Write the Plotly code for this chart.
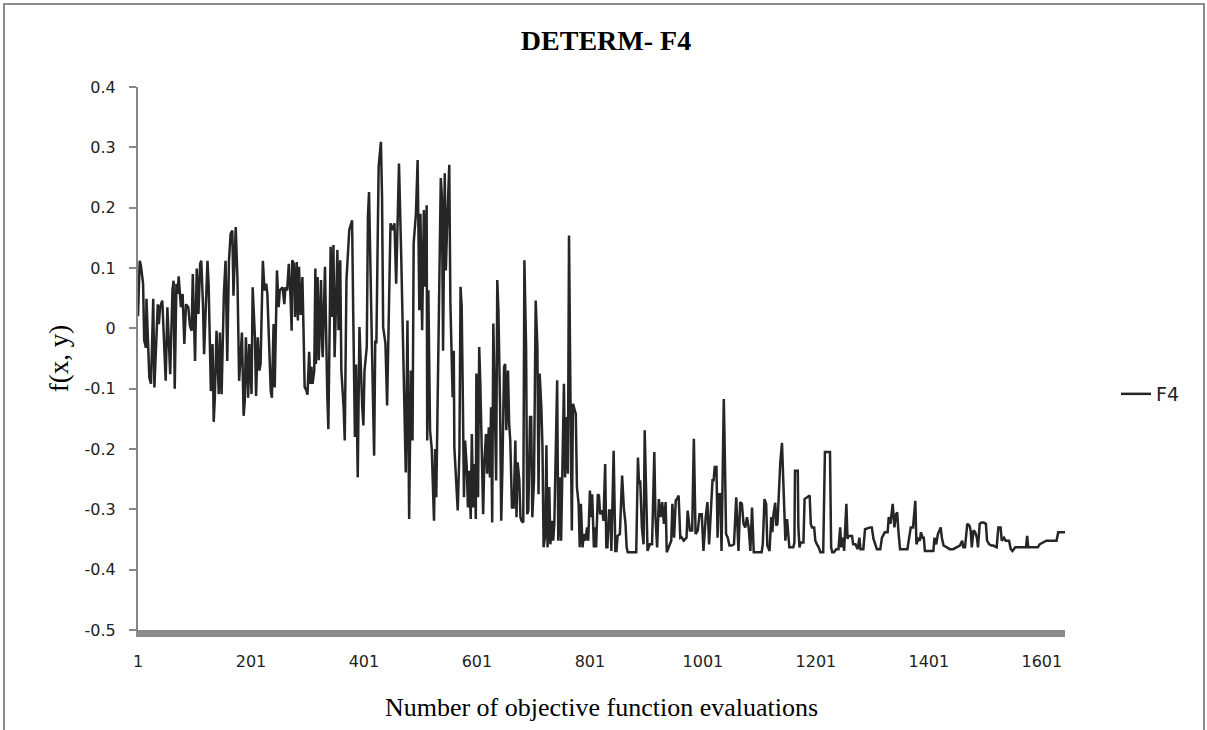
import plotly.graph_objects as go

# Evaluation index / objective value pairs, grouped by stretch of the run
eval_a = [1, 4, 6, 10, 12, 15, 16, 21, 24, 28,
          30, 33, 36, 38, 40, 44, 46, 50, 53, 58,
          62, 64, 66, 69, 71, 73, 77, 80, 83, 86,
          90, 93, 96, 98, 102, 105, 108, 111, 113, 116,
          118, 124, 126, 130, 133, 135, 137, 140, 144, 146,
          149, 153, 156, 159, 162, 165, 168, 170, 174, 177,
          180, 183, 185, 188, 190, 192, 196, 198, 202, 204,
          208, 210, 213, 216, 218, 222, 225, 228, 230, 236,
          238, 241, 243, 247, 250, 252, 257, 260, 262, 265,
          268, 271, 273]
f4_a = [0.02, 0.112, 0.105, 0.074, -0.02, -0.032, 0.049, -0.081, -0.092, 0.049,
        -0.098, -0.032, 0.04, 0.007, 0.035, 0.046, -0.004, -0.087, 0.035, -0.076,
        0.063, 0.079, -0.1, 0.074, 0.057, 0.086, 0.035, 0.057, -0.026, 0.04,
        0.035, 0.004, -0.004, 0.09, -0.054, 0.099, 0.024, 0.107, 0.112, 0.04,
        -0.043, 0.112, 0.074, -0.104, -0.026, -0.155, -0.115, -0.004, -0.109, -0.007,
        -0.109, 0.057, 0.112, -0.054, 0.112, 0.157, 0.162, 0.054, 0.168, 0.085,
        -0.087, -0.026, -0.007, -0.145, -0.12, -0.015, -0.115, -0.026, -0.109, 0.068,
        -0.015, -0.112, -0.015, -0.07, -0.059, 0.112, 0.063, 0.074, 0.057, -0.104,
        -0.115, 0.007, -0.098, 0.096, 0.035, 0.063, 0.068, 0.04, 0.068, 0.063,
        0.107, 0.051, -0.004]

eval_b = [274, 277, 279, 282, 284, 286, 289, 292, 294, 296,
          299, 301, 304, 306, 308, 310, 313, 315, 316, 319,
          321, 325, 327, 328, 332, 334, 336, 338, 342, 344,
          347, 349, 354, 356, 359, 361, 365, 367, 370, 375,
          380, 382, 385, 387, 390, 393, 395, 398, 400, 402,
          406, 408, 410, 413, 415, 419, 421, 423, 427, 431,
          433, 435, 439, 442, 445, 448, 451, 455, 458, 463,
          467, 472, 475, 478, 481, 484, 487, 489, 493, 496,
          499, 501, 504, 507, 509, 512, 513, 515, 518, 521,
          525, 527, 529, 531, 533, 537, 539, 541, 544, 546,
          548, 552, 554, 558, 560, 561]
f4_b = [0.113, 0.107, 0.019, 0.11, 0.013, 0.102, 0.022, 0.085, -0.003, -0.097,
        -0.103, -0.11, -0.039, -0.092, -0.064, -0.092, -0.07, 0.099, -0.059, 0.085,
        -0.053, 0.08, -0.031, -0.048, 0.102, -0.048, -0.108, -0.167, 0.135, 0.019,
        0.138, -0.048, 0.13, -0.003, 0.113, -0.07, -0.131, -0.186, 0.08, 0.163,
        0.179, 0.024, -0.18, -0.06, -0.247, 0.002, -0.07, -0.131, -0.161, -0.07,
        -0.031, 0.185, 0.226, 0.041, -0.025, -0.211, -0.02, -0.025, 0.268, 0.309,
        0.218, 0.002, -0.025, -0.128, 0.052, 0.174, 0.163, 0.174, 0.074, 0.273,
        0.118, -0.114, -0.239, 0.013, -0.316, -0.07, -0.186, 0.141, 0.19, 0.279,
        0.03, 0.19, -0.003, 0.196, 0.069, 0.204, -0.186, 0.063, -0.169, -0.2,
        -0.319, -0.2, -0.28, -0.15, -0.009, 0.249, 0.218, -0.037, 0.257, 0.096,
        0.163, 0.271, 0.041, -0.114, -0.037, -0.197]

eval_c = [567, 570, 572, 574, 576, 578, 580, 583, 585, 587,
          590, 592, 594, 597, 599, 600, 603, 605, 607, 610,
          612, 614, 617, 619, 622, 624, 626, 628, 630, 632,
          635, 637, 639, 642, 644, 646, 649, 651, 653, 656,
          658, 660, 663, 666, 669, 671, 673, 676, 678, 680,
          683, 685, 688, 690, 692, 695, 697, 699, 702, 705,
          708, 710, 712, 715, 717, 719, 722, 724, 726, 729,
          731, 734, 736, 738, 741, 743, 745, 748, 750, 752,
          755, 757, 759, 762, 764, 766, 769, 771, 773, 776,
          778, 781, 783, 785, 788, 790, 793, 796, 798, 801,
          803, 805, 808, 810, 812, 815, 817, 819, 823, 825,
          828, 830, 832, 835]
f4_c = [-0.302, -0.203, 0.069, 0.035, -0.114, -0.28, -0.186, -0.23, -0.297, -0.236,
        -0.316, -0.175, -0.297, -0.225, -0.316, -0.075, -0.28, -0.031, -0.092, -0.263,
        -0.308, -0.225, -0.175, -0.241, -0.164, -0.247, -0.131, -0.322, 0.008, -0.092,
        -0.252, 0.08, 0.03, -0.131, -0.319, -0.236, -0.064, -0.059, -0.169, -0.07,
        -0.158, -0.186, -0.297, -0.297, -0.186, -0.313, -0.222, -0.252, -0.313, -0.319,
        -0.322, 0.113, -0.031, -0.308, -0.302, -0.147, -0.147, -0.313, -0.252, 0.046,
        -0.031, -0.275, -0.075, -0.131, -0.197, -0.363, -0.341, -0.194, -0.363, -0.263,
        -0.358, -0.319, -0.352, -0.324, -0.18, -0.086, -0.352, -0.247, -0.352, -0.258,
        -0.092, -0.247, -0.147, -0.241, 0.154, -0.059, -0.335, -0.125, -0.131, -0.142,
        -0.263, -0.291, -0.363, -0.291, -0.363, -0.341, -0.352, -0.33, -0.352, -0.269,
        -0.313, -0.275, -0.363, -0.33, -0.363, -0.275, -0.277, -0.308, -0.302, -0.319,
        -0.225, -0.363, -0.363, -0.302]

eval_d = [837, 839, 843, 846, 848, 850, 854, 858, 861, 864,
          866, 868, 883, 886, 888, 890, 893, 896, 898, 901,
          903, 907, 911, 915, 917, 920, 923, 926, 929, 932,
          935, 937, 941, 945, 947, 950, 953, 955, 958, 961,
          963, 967, 972, 974, 978, 982, 985, 988, 992, 995,
          999, 1002, 1006, 1009, 1012, 1014, 1018, 1020, 1022, 1025,
          1027, 1029, 1032, 1034, 1038, 1040, 1042, 1045, 1048, 1052,
          1056, 1060, 1064, 1067, 1070, 1073, 1076, 1079, 1082, 1085,
          1088, 1091, 1105, 1107, 1110, 1113, 1115, 1119]
f4_d = [-0.302, -0.369, -0.203, -0.369, -0.369, -0.344, -0.341, -0.244, -0.297, -0.324,
        -0.363, -0.371, -0.371, -0.214, -0.258, -0.252, -0.33, -0.358, -0.169, -0.313,
        -0.369, -0.358, -0.358, -0.205, -0.313, -0.363, -0.283, -0.313, -0.288, -0.324,
        -0.288, -0.371, -0.36, -0.352, -0.291, -0.347, -0.285, -0.283, -0.277, -0.347,
        -0.346, -0.352, -0.347, -0.302, -0.335, -0.335, -0.183, -0.341, -0.335, -0.308,
        -0.308, -0.369, -0.313, -0.288, -0.358, -0.313, -0.252, -0.252, -0.23, -0.23,
        -0.347, -0.275, -0.275, -0.369, -0.117, -0.219, -0.341, -0.347, -0.36, -0.36,
        -0.358, -0.28, -0.369, -0.288, -0.291, -0.324, -0.33, -0.313, -0.33, -0.369,
        -0.297, -0.371, -0.371, -0.358, -0.283, -0.291, -0.36, -0.369]

eval_e = [1122, 1124, 1126, 1129, 1131, 1133, 1136, 1138, 1141, 1143,
          1145, 1147, 1150, 1153, 1154, 1161, 1163, 1164, 1169, 1170,
          1172, 1174, 1179, 1181, 1185, 1188, 1190, 1192, 1194, 1198,
          1200, 1203, 1206, 1209, 1214, 1217, 1226, 1228, 1230, 1233,
          1237, 1241, 1244, 1246, 1249, 1251, 1255, 1257, 1259, 1265,
          1267, 1271, 1275, 1278, 1280, 1285, 1288, 1297, 1300, 1303,
          1309, 1315, 1318, 1323, 1328, 1330, 1333, 1337, 1340, 1343,
          1345, 1347, 1350, 1363, 1365, 1369, 1373, 1377, 1379, 1382,
          1385]
f4_e = [-0.313, -0.338, -0.308, -0.289, -0.327, -0.324, -0.252, -0.222, -0.19, -0.252,
        -0.322, -0.352, -0.316, -0.355, -0.363, -0.363, -0.355, -0.236, -0.236, -0.33,
        -0.363, -0.355, -0.355, -0.283, -0.28, -0.277, -0.277, -0.324, -0.33, -0.33,
        -0.352, -0.358, -0.363, -0.371, -0.371, -0.205, -0.205, -0.363, -0.371, -0.371,
        -0.366, -0.366, -0.33, -0.363, -0.347, -0.369, -0.291, -0.349, -0.344, -0.344,
        -0.358, -0.358, -0.366, -0.347, -0.366, -0.366, -0.333, -0.33, -0.33, -0.349,
        -0.366, -0.366, -0.347, -0.338, -0.338, -0.313, -0.324, -0.291, -0.33, -0.308,
        -0.305, -0.335, -0.366, -0.366, -0.352, -0.33, -0.33, -0.286, -0.358, -0.349,
        -0.352]

eval_f = [1387, 1390, 1392, 1394, 1409, 1411, 1414, 1417, 1420, 1422,
          1424, 1427, 1433, 1438, 1444, 1450, 1456, 1460, 1462, 1465,
          1469, 1473, 1475, 1477, 1480, 1483, 1486, 1488, 1491, 1494,
          1498, 1502, 1504, 1508, 1512, 1515, 1521, 1524, 1528, 1530,
          1534, 1537, 1543, 1546, 1549, 1554, 1573, 1575, 1577, 1594,
          1597, 1603, 1609, 1627, 1630, 1642]
f4_f = [-0.338, -0.347, -0.347, -0.369, -0.369, -0.347, -0.358, -0.341, -0.333, -0.33,
        -0.347, -0.36, -0.363, -0.366, -0.366, -0.363, -0.36, -0.352, -0.363, -0.363,
        -0.324, -0.327, -0.335, -0.363, -0.335, -0.338, -0.347, -0.363, -0.324, -0.322,
        -0.322, -0.324, -0.352, -0.358, -0.36, -0.36, -0.363, -0.33, -0.33, -0.352,
        -0.347, -0.352, -0.352, -0.366, -0.369, -0.363, -0.363, -0.344, -0.363, -0.363,
        -0.358, -0.355, -0.352, -0.352, -0.338, -0.338]

x_tick_vals = [1, 201, 401, 601, 801, 1001, 1201, 1401, 1601]
y_tick_vals = [0.4, 0.3, 0.2, 0.1, 0, -0.1, -0.2, -0.3, -0.4, -0.5]
y_tick_text = ["0.4", "0.3", "0.2", "0.1", "0", "-0.1", "-0.2", "-0.3", "-0.4", "-0.5"]

evals = eval_a + eval_b + eval_c + eval_d + eval_e + eval_f
f4 = f4_a + f4_b + f4_c + f4_d + f4_e + f4_f

# Plot-area geometry in pixels
W, H = 1207, 730
L, R, T, B = 138, 1065, 87, 630
pw, ph = R - L, B - T

def px(xp):
    return (xp - L) / pw

def py(yp):
    return (B - yp) / ph

fig = go.Figure()
fig.add_trace(go.Scatter(
    x=evals, y=f4, mode="lines", name="F4",
    line=dict(color="#262626", width=2.5),
))

sans = "DejaVu Sans, Verdana, sans-serif"
serif = "Liberation Serif, Times New Roman, serif"

fig.update_layout(
    width=W, height=H, autosize=False,
    margin=dict(l=L, r=W - R, t=T, b=H - B, pad=0),
    paper_bgcolor="white", plot_bgcolor="white",
    title=dict(text="<b>DETERM- F4</b>", x=606 / W, xref="container", xanchor="center",
               y=1 - 40 / H, yref="container", yanchor="middle",
               font=dict(family=serif, size=28, color="black")),
    showlegend=True,
    legend=dict(x=px(1116), y=py(394), xanchor="left", yanchor="middle",
                bgcolor="rgba(0,0,0,0)", font=dict(family=sans, size=19, color="#222")),
    xaxis=dict(
        range=[1, 1642], showgrid=False, zeroline=False,
        showline=True, linecolor="#8a8a8a", linewidth=7,
        ticks="", tickvals=x_tick_vals,
        tickfont=dict(family=sans, size=16, color="#222"),
        ticklabelstandoff=11,
        title=dict(text="Number of objective function evaluations",
                   font=dict(family=serif, size=26, color="black"), standoff=30),
    ),
    yaxis=dict(
        range=[-0.5, 0.4], showgrid=False, zeroline=False,
        showline=True, linecolor="#868686", linewidth=2,
        ticks="outside", ticklen=7, tickwidth=1.5, tickcolor="#868686",
        tickvals=y_tick_vals, ticktext=y_tick_text,
        tickfont=dict(family=sans, size=16, color="#222"),
        ticklabelstandoff=10,
        title=dict(text="f(x, y)", font=dict(family=serif, size=27, color="black"), standoff=8),
    ),
    shapes=[dict(type="rect", xref="paper", yref="paper",
                 x0=px(4), x1=px(1204), y0=py(760), y1=py(4),
                 line=dict(color="#8c8c8c", width=2), fillcolor="rgba(0,0,0,0)", layer="below")],
)

fig.write_html("out.html")
